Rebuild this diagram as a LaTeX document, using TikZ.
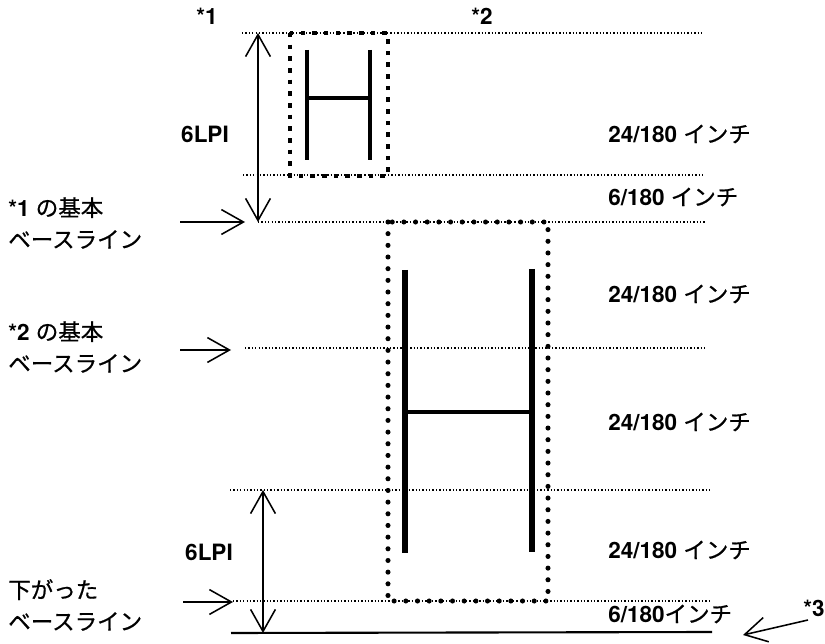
\documentclass[tikz,border=0pt]{standalone}
\usepackage{fontspec}
\setmainfont{TeX Gyre Heros}
\newfontfamily\jpfont[FakeBold=0.7]{Noto Sans CJK JP}
\newcommand{\jtext}[1]{{\jpfont\mdseries #1}}
\usetikzlibrary{arrows.meta, positioning}

\begin{document}
\begin{tikzpicture}[
    x=0.025cm, y=-0.025cm,
    label/.style={font=\fontsize{16}{22.5}\selectfont\bfseries, inner sep=0pt},
    sidelabel/.style={label, anchor=west, align=left},
    sizelabel/.style={label, anchor=west},
    guide/.style={line width=0.9pt, dash pattern=on 0.9pt off 1.5pt},
    pointer/.style={line width=1.1pt, -{Straight Barb[length=0.55cm, width=0.62cm]}},
    span/.style={line width=1.1pt, {Straight Barb[length=0.55cm, width=0.62cm]}-{Straight Barb[length=0.55cm, width=0.62cm]}},
    smallbox/.style={line width=3.2pt, dash pattern=on 3.2pt off 5.1pt},
    bigbox/.style={line width=3.6pt, line cap=round, dash pattern=on 0pt off 8.3pt},
    stroke/.style={line width=#1}
]
    \useasboundingbox (0,0) rectangle (825,644);

    % Guide lines
    \draw[guide] (242,33) -- (704,33);
    \draw[guide] (243,175) -- (705,175);
    \draw[guide] (258,222) -- (705,222);
    \draw[guide] (245,348) -- (707,348);
    \draw[guide] (230,490) -- (710,490);
    \draw[guide] (233,601) -- (710,601);
    \draw[line width=1.5pt] (231,633) -- (712,632);

    % Small character cell
    \draw[smallbox] (290,33) rectangle (388,176);
    \draw[stroke=2.8pt] (307,50) -- (307,160);
    \draw[stroke=2.8pt] (370,50) -- (370,160);
    \draw[stroke=2.3pt] (307,98) -- (370,98);

    % Large character cell
    \draw[bigbox] (388,222) rectangle (548,601);
    \draw[stroke=3.9pt] (405,270) -- (405,553);
    \draw[stroke=3.9pt] (532,269) -- (532,552);
    \draw[stroke=3.5pt] (405,412) -- (532,412);

    % Coordinates for the arrows
    \coordinate (top1) at (258,33);
    \coordinate (base1) at (258,222);
    \coordinate (top3) at (263,490);
    \coordinate (base3) at (263,633);
    \coordinate (tail1) at (180,222);
    \coordinate (head1) at (245,222);
    \coordinate (tail2) at (180,350);
    \coordinate (head2) at (231,350);
    \coordinate (tail3) at (183,602);
    \coordinate (head3) at (233,602);
    \coordinate (tail4) at (808,620);
    \coordinate (head4) at (743,635);

    % Arrows
    \draw[span] (top1) -- (base1);
    \draw[span] (top3) -- (base3);
    \draw[pointer] (tail1) -- (head1);
    \draw[pointer] (tail2) -- (head2);
    \draw[pointer] (tail3) -- (head3);
    \draw[pointer] (tail4) -- (head4);

    % Top marks
    \node[label] (mark1) at (207,16) {*1};
    \node[label] (mark2) at (482,16) {*2};
    \node[label] (mark3) at (814,608) {*3};

    % Line pitch labels
    \node[label] (lpi1) at (205,134) {6LPI};
    \node[label] (lpi2) at (209,552) {6LPI};

    % Baseline labels
    \node[sidelabel] (base1lbl) at (8,223) {*1 \jtext{の基本}\\\jtext{ベースライン}};
    \node[sidelabel] (base2lbl) at (8,347) {*2 \jtext{の基本}\\\jtext{ベースライン}};
    \node[sidelabel] (base3lbl) at (8,605) {\jtext{下がった}\\\jtext{ベースライン}};

    % Size labels
    \node[sizelabel] (size1) at (608,134) {24/180 \jtext{インチ}};
    \node[sizelabel] (size2) at (608,197) {6/180 \jtext{インチ}};
    \node[sizelabel] (size3) at (608,294) {24/180 \jtext{インチ}};
    \node[sizelabel] (size4) at (608,422) {24/180 \jtext{インチ}};
    \node[sizelabel] (size5) at (608,550) {24/180 \jtext{インチ}};
    \node[sizelabel] (size6) at (608,614) {6/180\jtext{インチ}};

\end{tikzpicture}
\end{document}
